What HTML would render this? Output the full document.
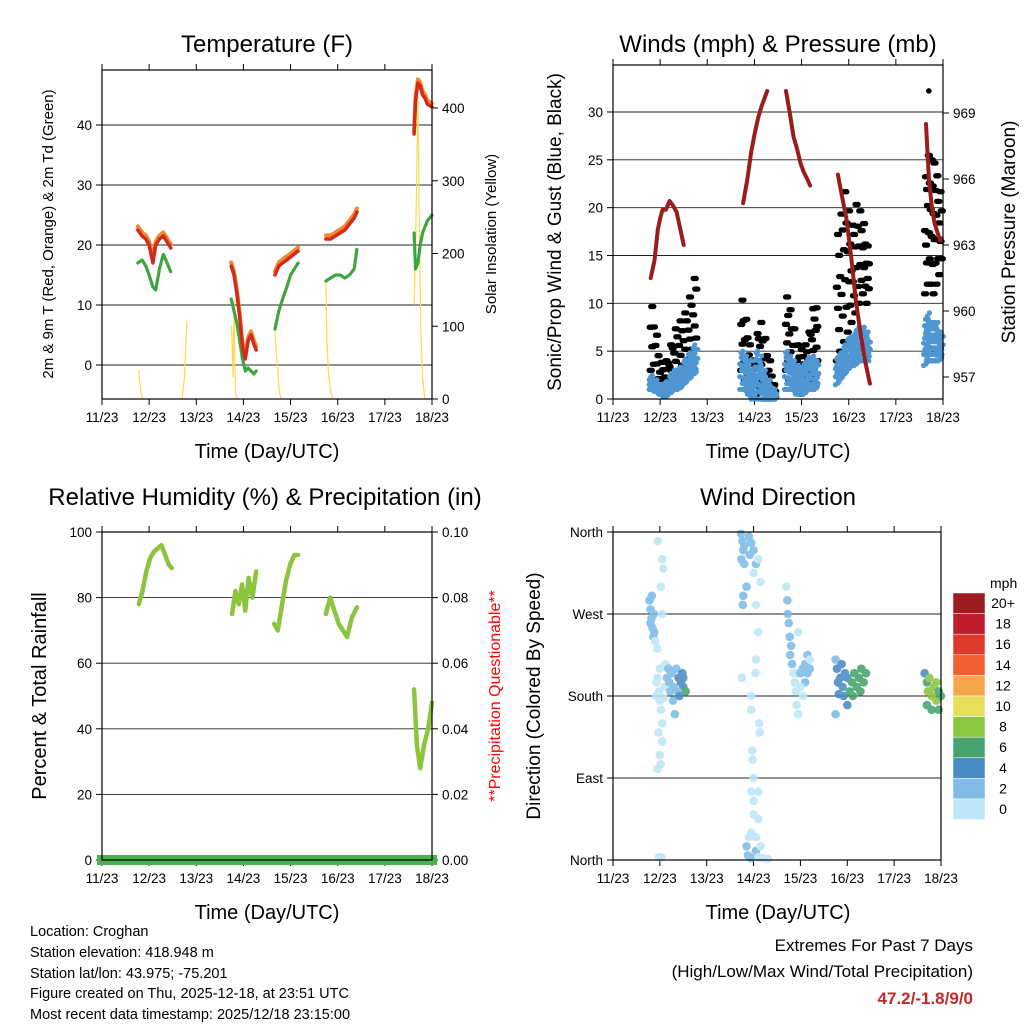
<!DOCTYPE html>
<html><head><meta charset="utf-8"><style>
html,body{margin:0;padding:0;background:#fff;}
svg{display:block;font-family:"Liberation Sans",Arial,sans-serif;}
</style></head><body>
<svg id="s" width="1024" height="1024" viewBox="0 0 1024 1024">
<text x="267" y="52" font-size="24" text-anchor="middle">Temperature (F)</text>
<text x="778" y="52" font-size="24" text-anchor="middle">Winds (mph) &amp; Pressure (mb)</text>
<text x="265" y="505" font-size="24" text-anchor="middle">Relative Humidity (%) &amp; Precipitation (in)</text>
<text x="778" y="505" font-size="24" text-anchor="middle">Wind Direction</text>
<text x="267" y="458" font-size="20" text-anchor="middle">Time (Day/UTC)</text>
<text x="778" y="458" font-size="20" text-anchor="middle">Time (Day/UTC)</text>
<text x="267" y="919" font-size="20" text-anchor="middle">Time (Day/UTC)</text>
<text x="778" y="919" font-size="20" text-anchor="middle">Time (Day/UTC)</text>
<text transform="translate(53,234) rotate(-90)" font-size="15" text-anchor="middle">2m &amp; 9m T (Red, Orange) &amp; 2m Td (Green)</text>
<text transform="translate(496,234) rotate(-90)" font-size="15" text-anchor="middle">Solar Insolation (Yellow)</text>
<text transform="translate(561,232) rotate(-90)" font-size="19" text-anchor="middle">Sonic/Prop Wind &amp; Gust (Blue, Black)</text>
<text transform="translate(1015,232) rotate(-90)" font-size="19" text-anchor="middle">Station Pressure (Maroon)</text>
<text transform="translate(46,696) rotate(-90)" font-size="20" text-anchor="middle">Percent &amp; Total Rainfall</text>
<text transform="translate(500,696) rotate(-90)" font-size="16" fill="#ff0000" text-anchor="middle">**Precipitation Questionable**</text>
<text transform="translate(540,696) rotate(-90)" font-size="19" text-anchor="middle">Direction (Colored By Speed)</text>
<g font-size="14.5">
<text x="30" y="936">Location: Croghan</text>
<text x="30" y="957">Station elevation: 418.948 m</text>
<text x="30" y="978">Station lat/lon: 43.975; -75.201</text>
<text x="30" y="998">Figure created on Thu, 2025-12-18, at 23:51 UTC</text>
<text x="30" y="1019">Most recent data timestamp: 2025/12/18 23:15:00</text>
</g>
<text x="973" y="951" font-size="17" text-anchor="end">Extremes For Past 7 Days</text>
<text x="973" y="977" font-size="17" text-anchor="end">(High/Low/Max Wind/Total Precipitation)</text>
<text x="973" y="1004" font-size="17" font-weight="bold" fill="#c62828" text-anchor="end">47.2/-1.8/9/0</text>
<text x="990" y="588" font-size="14">mph</text>
</svg>
<script>
// ---------- data ----------
var xTickLabels = ["11/23","12/23","13/23","14/23","15/23","16/23","17/23","18/23"];
var tempT = [[0.76,0.85,0.93,1.0,1.08,1.14,1.22,1.3,1.38,1.46],[2.74,2.8,2.86,2.92,2.98,3.04,3.1,3.16,3.22,3.27],[3.67,3.75,3.83,3.92,4.0,4.08,4.16],[4.75,4.85,4.95,5.05,5.15,5.25,5.35,5.41],[6.62,6.65,6.7,6.75,6.8,6.85,6.9,7.0]];
var tempRed = [[22.5,21.5,21,20,17,20,21,21.5,20.5,19.5],[16.5,15,12,8,3,1,4,5,3.5,2.5],[15,16.5,17,17.5,18,18.5,19],[21,21,21.5,22,22.5,23.5,24.5,25.5],[38.5,44,47,46.5,45,44.5,43.5,43]];
var tempGreen = [[17,17.5,16.5,15,13,12.5,16,18.5,17,15.5],[11,9,7,4,1,-1,-0.5,-1,-1.5,-1],[6,9,11,13,15,16,17],[14,14.5,15,15,14.5,15,16,19.5],[22,16,17,20,22,23,24,25]];
var solT = [[0.78,0.82,0.86],[1.7,1.75,1.78,1.8],[2.75,2.78,2.8,2.83,2.86],[3.66,3.7,3.73,3.76,3.8],[4.75,4.77,4.8,4.85,4.9],[6.62,6.65,6.7,6.73,6.76,6.8,6.85]];
var solV = [[40,10,0],[0,30,75,107],[100,30,135,10,0],[100,60,40,10,0],[165,80,40,10,0],[130,200,415,250,100,30,0]];
var tempTicks = [0,10,20,30,40];
var solTicks = [0,100,200,300,400];

var windT = [[0.8,0.9,1.0,1.1,1.2,1.3,1.4,1.5,1.6,1.7,1.8],[2.72,2.8,2.88,2.96,3.04,3.12,3.2,3.3,3.4,3.46],[3.67,3.74,3.82,3.9,3.98,4.06,4.14,4.22,4.3,4.35],[4.75,4.82,4.9,4.98,5.06,5.14,5.22,5.3,5.38,5.45],[6.62,6.68,6.74,6.8,6.86,6.92,7.0]];
var gustLo = [[3,2,1,0.5,1,1.5,2,2.5,3,4,5],[3,2,1,0.5,0.5,1,0,0,0,0],[3,2,2,1,0.5,1,1.5,2,2.5,3],[4,5,6,7,8,9,10,11,10,11],[11,12,12,11,12,13,13]];
var gustHi = [[10.5,8,4,3.5,5,7,8,8.5,10,12,13.8],[11,9,7,3,6,8.5,7,5,2,0.5],[11,10,8,6,5,5.5,6,9,10.3,8],[16.8,18,22,21,17,20.5,20,19,17,14],[22,25.7,25,25,24,22,21]];
var windLo = [[1,0.8,0.5,0.2,0.5,1,1,1.5,2,2.5,3],[1,1,0.5,0,0,0,0,0,0,0],[1,1,1,0.5,0.5,0.5,1,1,1,1.5],[1.5,2,2.5,3,3.5,3.5,4,4,4,4],[3.5,4,4,4,4,4,4.5]];
var windHi = [[2.5,2,1.5,1.5,2,3,3,3.5,4.5,5,6],[5,4.5,4,2,5,4.5,3,2,1,0.5],[5,4.5,4,3.5,3,3.5,4,4.5,4,4],[4,4.5,5,6,6.5,6.5,7.5,7.5,7,6],[7,9,8,8,8,7,7]];
var gustOutlierT = [6.7];
var gustOutlierV = [32.2];
var presT = [[0.8,0.88,0.95,1.0,1.05,1.12,1.2,1.27,1.35,1.42,1.5],[2.76,2.85,2.93,3.0,3.08,3.15,3.22,3.27],[3.67,3.75,3.83,3.9,3.98,4.05,4.12,4.18],[4.77,4.85,4.95,5.05,5.15,5.25,5.35,5.45],[6.64,6.7,6.76,6.82,6.88,6.94,6.97]];
var presV = [[961.5,962.3,963.7,964.2,964.6,964.6,965,964.8,964.5,963.8,963],[964.9,966,967.2,968,968.8,969.3,969.7,970],[970,969,967.9,967.4,966.7,966.3,966,965.7],[966.2,965.3,964.2,962.5,960.5,959,957.7,956.7],[968.5,966,964.8,964,963.6,963.2,963.3]];
var windTicks = [0,5,10,15,20,25,30];
var presTicks = [957,960,963,966,969];

var rhT = [[0.78,0.86,0.94,1.02,1.1,1.18,1.26,1.34,1.42,1.48],[2.76,2.83,2.9,2.97,3.04,3.11,3.19,3.27],[3.65,3.73,3.82,3.9,3.99,4.08,4.16],[4.75,4.84,4.93,5.02,5.11,5.2,5.3,5.41],[6.62,6.68,6.75,6.83,6.92,7.0]];
var rhV = [[78,82,88,92,94,95,96,93,90,89],[75,82,78,84,76,86,80,88],[72,70,78,85,90,93,93],[75,80,76,72,70,68,74,77],[52,35,28,35,40,48]];
var precipT = [0,7];
var precipV = [0,0];
var rhTicks = [0,20,40,60,80,100];
var precipTicks = ["0.00","0.02","0.04","0.06","0.08","0.10"];

var wdT = [0.78,0.8,0.82,0.84,0.86,0.8,0.9,0.95,0.88,0.83,0.87,
0.95,1.05,1.07,1.02,1.05,1.0,0.95,0.98,1.0,1.02,1.05,0.97,1.05,1.0,0.95,1.02,0.92,1.1,1.08,1.12,0.93,0.98,1.03,
1.15,1.2,1.25,1.3,1.35,1.4,1.45,1.5,1.55,1.48,1.38,1.28,1.22,1.32,1.42,1.5,1.18,
2.73,2.76,2.78,2.74,2.8,2.9,2.95,3.0,3.05,2.85,2.78,2.77,3.0,3.1,3.15,3.05,3.1,3.05,3.04,2.75,2.95,2.95,3.12,3.13,2.97,2.98,3.0,2.95,3.0,3.1,3.0,3.1,2.95,3.05,2.85,2.88,2.95,3.05,3.1,3.2,3.3,2.9,3.15,2.8,2.92,
3.7,3.72,3.73,3.75,3.77,3.8,3.78,3.82,3.85,3.88,3.9,3.92,3.95,3.92,4.0,4.05,4.1,4.15,4.1,4.2,4.15,4.0,4.05,4.2,3.95,
4.75,4.78,4.8,4.85,4.9,4.95,4.82,4.75,4.92,5.0,5.05,5.1,5.15,5.2,5.25,5.3,5.35,5.4,5.12,5.28,5.0,4.88,
6.65,6.7,6.75,6.8,6.85,6.9,6.95,7.0,6.7,6.8,6.9,6.75,6.95,6.72];
var wdDeg = [285,275,265,255,245,260,240,232,250,290,270,
350,330,320,300,270,210,200,185,175,165,150,140,130,115,100,105,180,190,178,215,195,3,3,
200,195,205,190,210,200,195,190,185,205,185,175,185,160,180,200,210,
358,350,340,330,325,355,348,340,325,300,290,280,315,330,305,280,250,220,205,200,180,165,150,140,120,110,90,75,65,75,50,45,30,25,15,5,2,10,3,2,1,25,15,345,335,
300,285,270,260,245,235,225,215,205,195,185,170,160,205,205,210,215,205,195,210,225,190,180,220,250,
220,210,195,200,190,205,182,160,180,200,185,195,205,190,200,210,195,205,180,185,170,215,
205,195,185,180,190,175,185,180,170,165,195,200,165,185];
var wdSpd = [3,3,2.5,3,2.5,3,1,1,2,3,2.5,
0.5,0.5,0.5,0.5,1,1,0.5,1,0.5,0.5,0.5,0.5,0.5,0.5,1,0.5,0.5,1,0.5,1,1,1,0.5,
3,3,2.5,3,3,4,5,5,6.5,5,3,2,3,2.5,4,4.5,2,
2.5,2.5,3,2.5,2.5,2.5,2.5,2.5,2.5,3,3,3,1,0.5,0.5,0.5,0.5,0.5,0.5,1,0.5,0.5,0.5,0.5,0.5,0.5,0.5,0.5,0.5,0.5,0.5,0.5,1,0.5,2.5,3,2,2,0.5,0.5,0.5,0.5,0.5,2.5,3,
0.5,2,2.5,3,3,2.5,2.5,2,0.5,0.5,0.5,0.5,0.5,1,2,2.5,2.5,2.5,2,2.5,2.5,0.5,0.5,1,1,
3.5,4,4.5,5,4.5,5,4,3,5,5,6.5,6.5,7,7,7,7,6.5,7,7,7,5,4.5,
5,7,9,8,9,8,7,6.5,7,7,8,9,7,8.5];
var dirTicks = ["North","East","South","West","North"];
var dirTickDeg = [0,90,180,270,360];
var cbLabels = ["20+","18","16","14","12","10","8","6","4","2","0"];
var cbColors = ["#9b1b1e","#be1e2d","#dd3a2c","#ef6130","#f7a54a","#e6df5c","#8cc540","#47a36c","#4a8bc6","#7fbbe6","#bfe6f8"];

// ---------- helpers ----------
var NS="http://www.w3.org/2000/svg", svg=document.getElementById('s');
function mk(tag,attrs,parent){var e=document.createElementNS(NS,tag);for(var k in attrs)e.setAttribute(k,attrs[k]);(parent||svg).appendChild(e);return e;}
function lin(d0,d1,r0,r1){return function(v){return r0+(v-d0)*(r1-r0)/(d1-d0);};}

function panel(name,x0,x1,y0,y1){
  var g=mk('g',{});
  
  
  var xs=lin(0,7,x0,x1);
  for(var i=0;i<xTickLabels.length;i++){
    var x=xs(i);
    var t=mk('line',{x1:x,x2:x,y1:y1,y2:y1+6,stroke:'#000','stroke-width':1},g);
    
    
    var t2=mk('line',{x1:x,x2:x,y1:y0,y2:y0-6,stroke:'#000','stroke-width':1},g);
    
    
    var lb=mk('text',{x:x,y:y1+23,'font-size':13.5,'text-anchor':'middle'},g);
    lb.textContent=xTickLabels[i];
    
    
  }
  return {g:g,xs:xs};
}
function frame(name,x0,x1,y0,y1){
  var r=mk('rect',{x:x0,y:y0,width:x1-x0,height:y1-y0,fill:'none',stroke:'#000','stroke-width':1.2});
  
  
}
function yAxis(x0,x1,ys,vals,labels,side,grid){
  for(var i=0;i<vals.length;i++){
    var y=ys(vals[i]);
    if(grid){var gl=mk('line',{x1:x0,x2:x1,y1:y,y2:y,stroke:'#222','stroke-width':0.9});
      
      }
    var xx=side==='l'?x0:x1, d=side==='l'?-6:6;
    var tk=mk('line',{x1:xx,x2:xx+d,y1:y,y2:y,stroke:'#000','stroke-width':1});
    
    
    var tx=mk('text',{x:side==='l'?x0-10:x1+10,y:y+5,'font-size':13.5,'text-anchor':side==='l'?'end':'start'});
    tx.textContent=labels[i];
    
    
  }
}
function polyline(ts,vs,xs,ys,color,w,name){
  var pts=[];for(var i=0;i<ts.length;i++)pts.push(xs(ts[i]).toFixed(1)+','+ys(vs[i]).toFixed(1));
  var p=mk('polyline',{points:pts.join(' '),fill:'none',stroke:color,'stroke-width':w,'stroke-linejoin':'round','stroke-linecap':'round'});
  
  
  return p;
}
function rangeDots(ts,lo,hi,xs,ys,color,r,name,n){
  var g=mk('g',{fill:color});
  
  
  for(var i=0;i<ts.length-1;i++){
    for(var s=0;s<3;s++){
      var f=s/3, t=ts[i]+(ts[i+1]-ts[i])*f;
      var l=lo[i]+(lo[i+1]-lo[i])*f, h=hi[i]+(hi[i+1]-hi[i])*f;
      for(var k=0;k<=n;k++){
        var v=l+(h-l)*(((k*3+s*2)%(n+1))/n);
        mk('circle',{cx:xs(t)+((k%3)-1)*1.5,cy:ys(v),r:r},g);
      }
    }
  }
  return g;
}

// ---------- Panel 1: temperature ----------
(function(){
  var x0=102,x1=432,y0=70,y1=399;
  var P=panel('temperature',x0,x1,y0,y1), xs=P.xs;
  var ys=lin(0,40,365,125), ys2=lin(0,400,399,108);
  yAxis(x0,x1,ys,tempTicks,tempTicks,'l',true);
  yAxis(x0,x1,ys2,solTicks,solTicks,'r',false);
  for(var i=0;i<solT.length;i++) polyline(solT[i],solV[i],xs,ys2,'#f5dc50',1.2,'insolation-line');
  for(var i=0;i<tempT.length;i++){
    polyline(tempT[i],tempGreen[i],xs,ys,'#3fa43f',3.2,'dewpoint-line').setAttribute('stroke-dasharray','2.5 1.5');
    polyline(tempT[i],tempRed[i].map(function(v){return v+0.6;}),xs,ys,'#f08a30',4,'temp-9m-line');
    polyline(tempT[i],tempRed[i],xs,ys,'#d42a1e',3.5,'temp-2m-line');
  }
  frame('temperature',x0,x1,y0,y1);
})();

// ---------- Panel 2: winds ----------
(function(){
  var x0=613,x1=943,y0=65,y1=399;
  var P=panel('winds',x0,x1,y0,y1), xs=P.xs;
  var ys=lin(0,30,399,112), ys2=lin(957,969,377,113);
  yAxis(x0,x1,ys,windTicks,windTicks,'l',true);
  yAxis(x0,x1,ys2,presTicks,presTicks,'r',false);
  for(var i=0;i<windT.length;i++) rangeDots(windT[i],gustLo[i],gustHi[i],xs,ys,'#000',2.7,'gust-dots',5);
  for(var i=0;i<gustOutlierT.length;i++){var c=mk('circle',{cx:xs(gustOutlierT[i]),cy:ys(gustOutlierV[i]),r:2.8,fill:'#000'});
    
    }
  for(var i=0;i<windT.length;i++) rangeDots(windT[i],windLo[i],windHi[i],xs,ys,'#4f97d3',2.6,'wind-dots',6);
  for(var i=0;i<presT.length;i++) polyline(presT[i],presV[i],xs,ys2,'#9b1c1c',4,'pressure-line');
  frame('winds',x0,x1,y0,y1);
})();

// ---------- Panel 3: RH ----------
(function(){
  var x0=102,x1=432,y0=532,y1=860;
  var P=panel('rh',x0,x1,y0,y1), xs=P.xs;
  var ys=lin(0,100,860,532), ys2=lin(0,0.1,860,532);
  yAxis(x0,x1,ys,rhTicks,rhTicks,'l',true);
  yAxis(x0,x1,ys2,precipTicks.map(Number),precipTicks,'r',false);
  for(var i=0;i<rhT.length;i++) polyline(rhT[i],rhV[i],xs,ys,'#8cc43e',4.5,'rh-line');
  var p=polyline(precipT,precipV,xs,ys2,'#4caf50',10,'precip-line');
  p.setAttribute('stroke-linecap','square');
  frame('rh',x0,x1,y0,y1);
})();

// ---------- Panel 4: wind direction ----------
(function(){
  var x0=613,x1=941,y0=532,y1=860;
  var P=panel('dir',x0,x1,y0,y1), xs=P.xs;
  var ys=lin(0,360,860,532);
  yAxis(x0,x1,ys,dirTickDeg,dirTicks,'l',true);
  function col(s){var idx=Math.min(10,Math.floor(s/2));return cbColors[10-idx];}
  var g=mk('g',{opacity:0.88});
  
  
  for(var i=0;i<wdT.length;i++){
    var c=mk('circle',{cx:xs(wdT[i]),cy:ys(wdDeg[i]),r:4.3,fill:col(wdSpd[i])},g);
    
    
  }
  frame('dir',x0,x1,y0,y1);
  var cy0=593,h=20.6;
  for(var k=0;k<cbColors.length;k++){
    var r=mk('rect',{x:953,y:cy0+k*h,width:32,height:h,fill:cbColors[k],stroke:'#fff','stroke-width':0.5});
    
    
    var t=mk('text',{x:1003,y:cy0+k*h+15,'font-size':14,'text-anchor':'middle'});
    t.textContent=cbLabels[k];
    
    
  }
})();
</script>
</body></html>
